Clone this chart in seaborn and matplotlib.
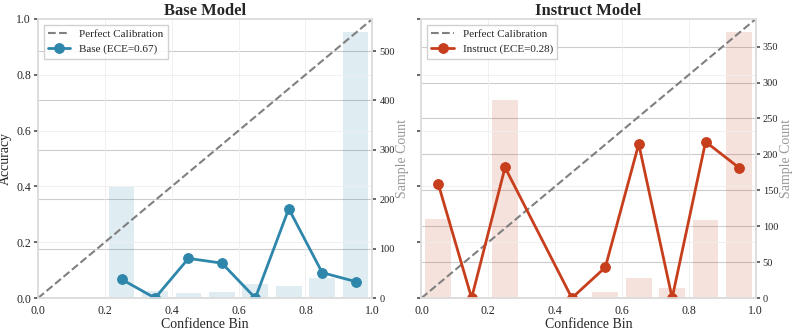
import numpy as np
import pandas as pd
import matplotlib
matplotlib.use("Agg")
import matplotlib.pyplot as plt
import seaborn as sns

# Data
bins = [0.05, 0.15, 0.25, 0.35, 0.45, 0.55, 0.65, 0.75, 0.85, 0.95]
base_acc = [None, None, 0.067, 0.0, 0.142, 0.125, 0.0, 0.32, 0.091, 0.059]
base_counts = [0, 0, 225, 15, 10, 13, 28, 24, 41, 538]
instruct_acc = [0.41, 0.0, 0.468, None, 0.0, 0.11, 0.552, 0.0, 0.56, 0.467]
instruct_counts = [110, 1, 276, 0, 1, 8, 28, 14, 108, 370]
base_ece = 0.67
instruct_ece = 0.28

sns.set_theme(style="whitegrid")
plt.rcParams["font.family"] = ["Liberation Serif", "DejaVu Serif"]

fig, axes = plt.subplots(1, 2, figsize=(7.93, 3.33), dpi=100, sharey=True)
fig.subplots_adjust(left=0.048, right=0.953, top=0.943, bottom=0.105, wspace=0.147)

panels = [
    ("Base Model", "Base", base_acc, base_counts, base_ece, "#2E86AB"),
    ("Instruct Model", "Instruct", instruct_acc, instruct_counts, instruct_ece, "#C73E1D"),
]

for ax, (title, name, acc, counts, ece, color) in zip(axes, panels):
    df = pd.DataFrame({"bin": bins, "acc": acc, "count": counts}).dropna()

    # sample count bars on twin axis
    ax2 = ax.twinx()
    ax2.bar(bins, counts, width=0.077, color=color, alpha=0.15, edgecolor="none")
    ax2.set_ylim(0, max(counts) * 1.05)
    ax2.set_ylabel("Sample Count", color="#999999", fontsize=10, labelpad=1)
    ax2.tick_params(axis="y", labelsize=7.5, length=3, color="#555555", pad=2)
    ax2.grid(True, axis="y", color="#cccccc", linewidth=0.8)
    ax2.grid(False, axis="x")
    for s in ax2.spines.values():
        s.set_color("#dddddd")

    ax.set_zorder(ax2.get_zorder() + 1)
    ax.patch.set_visible(False)

    ax.plot([0, 1], [0, 1], "--", color="gray", linewidth=1.5, label="Perfect Calibration")
    sns.lineplot(data=df, x="bin", y="acc", ax=ax, color=color, marker="o",
                 markersize=7, linewidth=2, markeredgecolor=color,
                 label=f"{name} (ECE={ece:.2f})")

    ax.set_xlim(0, 1)
    ax.set_ylim(0, 1)
    ax.set_title(title, fontsize=12, fontweight="bold", pad=3)
    ax.set_xlabel("Confidence Bin", fontsize=10, labelpad=1)
    ax.set_ylabel("Accuracy" if ax is axes[0] else "", fontsize=10, labelpad=3)
    ax.tick_params(axis="both", labelsize=8.5, length=3, color="#555555", pad=2)
    ax.grid(True, color="#eeeeee", linewidth=0.6)
    for s in ax.spines.values():
        s.set_color("#dddddd")
    ax.legend(loc="upper left", fontsize=8, frameon=True, fancybox=False,
              edgecolor="#cccccc", framealpha=0.9)

plt.savefig("out.png", dpi=100)
